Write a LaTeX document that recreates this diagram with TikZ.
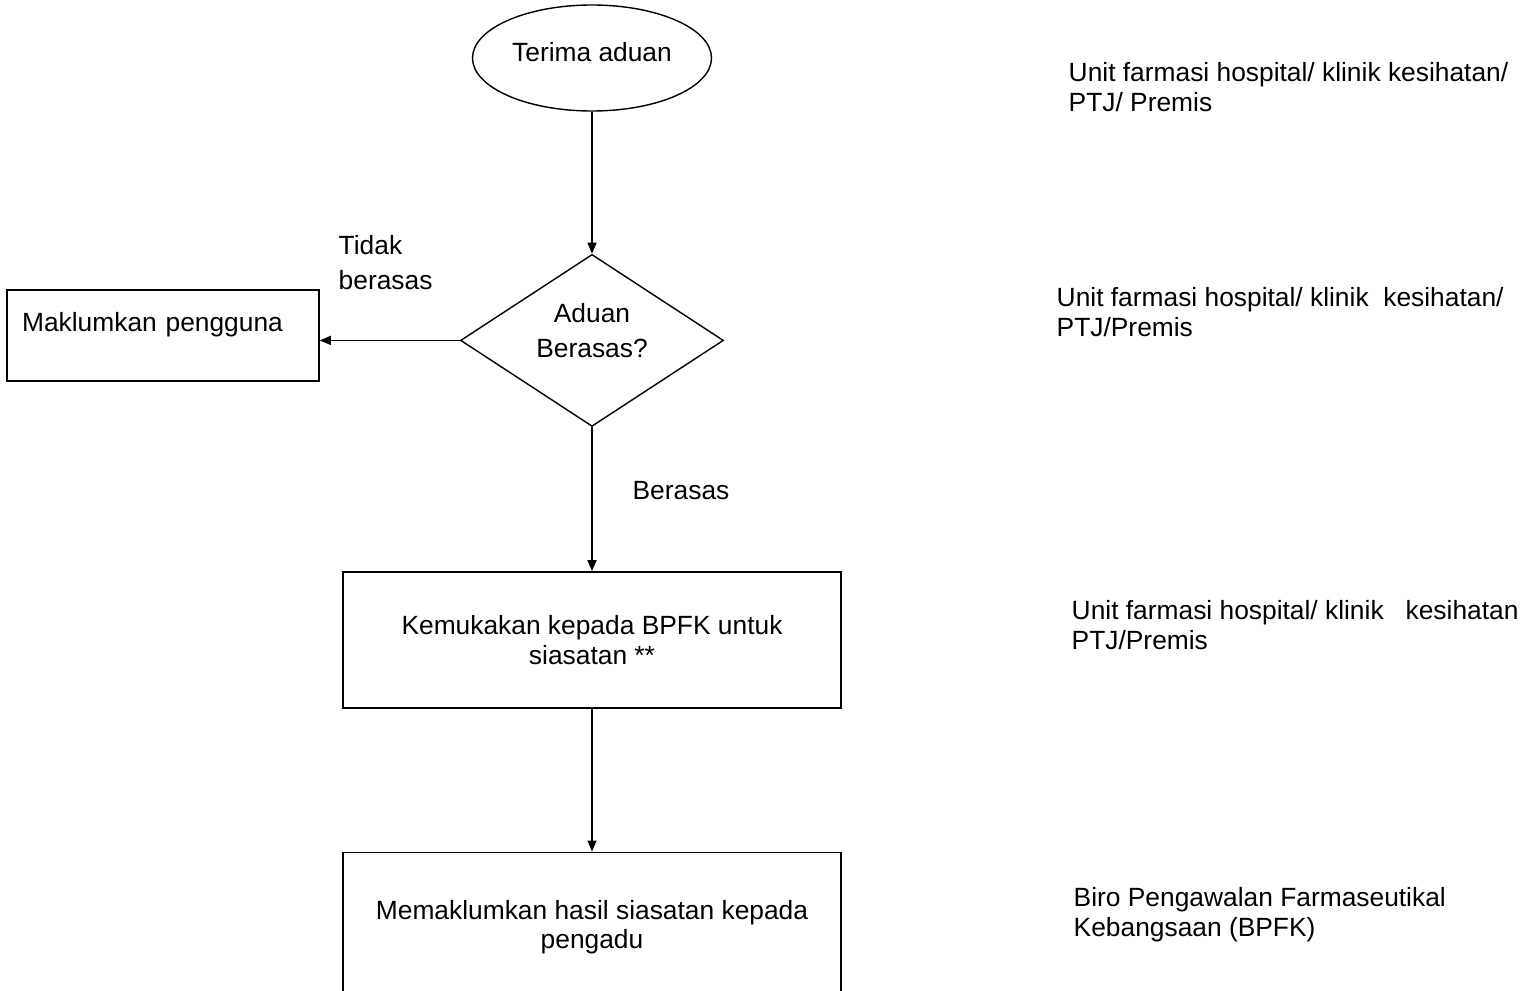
\documentclass[tikz,border=0pt]{standalone}
\usepackage{fontspec}
\setmainfont{Liberation Sans}
\usetikzlibrary{shapes.geometric, arrows.meta, positioning}

\begin{document}
\begin{tikzpicture}[node distance = 2.85cm,
        font=\fontsize{15}{17}\selectfont, line width=0.8pt,
        box/.style = {draw, rectangle, minimum width=9.96cm, align=center},
        note/.style = {anchor=west, align=left, inner sep=0pt}]
            \useasboundingbox (0,0) rectangle (30.78,-19.8);

            \node (start) [draw, ellipse, minimum width=4.78cm, minimum height=2.12cm, inner sep=0pt, text depth=0.24cm] at (11.84,-1.16) {Terima aduan};
            \node (dec) [draw, diamond, aspect=1.53, minimum width=5.26cm, minimum height=3.44cm, inner sep=0pt, text depth=0.4cm, align=center, below=2.84cm of start] {Aduan\\[3pt]Berasas?};
            \node (tell) [draw, rectangle, text width=5.64cm, inner xsep=0.3cm, inner ysep=0.2cm, text height=0.63cm, text depth=0.79cm, align=left, left=2.8cm of dec, yshift=0.1cm] {Maklumkan pengguna};
            \node (probe) [box, minimum height=2.72cm, below=2.88cm of dec] {Kemukakan kepada BPFK untuk\\siasatan **};
            \node (report) [box, minimum height=3.0cm, below=2.86cm of probe] {Memaklumkan hasil siasatan kepada\\pengadu};

            % who does each step
            \node (who1) [note] at (21.36,-1.74) {Unit farmasi hospital/ klinik kesihatan/\\PTJ/ Premis};
            \node (who2) [note] at (21.12,-6.25) {Unit farmasi hospital/ klinik\ \ kesihatan/\\PTJ/Premis};
            \node (who3) [note] at (21.42,-12.51) {Unit farmasi hospital/ klinik\ \ \ kesihatan\\PTJ/Premis};
            \node (who4) [note] at (21.46,-18.30) {Biro Pengawalan Farmaseutikal\\Kebangsaan (BPFK)};

            \path[-{Triangle[length=2.2mm, width=1.8mm]}]
            (start) edge (dec)
            (dec) edge node [pos=0.53, yshift=1.55cm, anchor=center, align=left] {Tidak\\[3pt]berasas} (dec -| tell.east)
            (dec) edge node [pos=0.44, xshift=1.78cm, anchor=center] {Berasas} (probe)
            (probe) edge (report);
        \end{tikzpicture}
\end{document}
